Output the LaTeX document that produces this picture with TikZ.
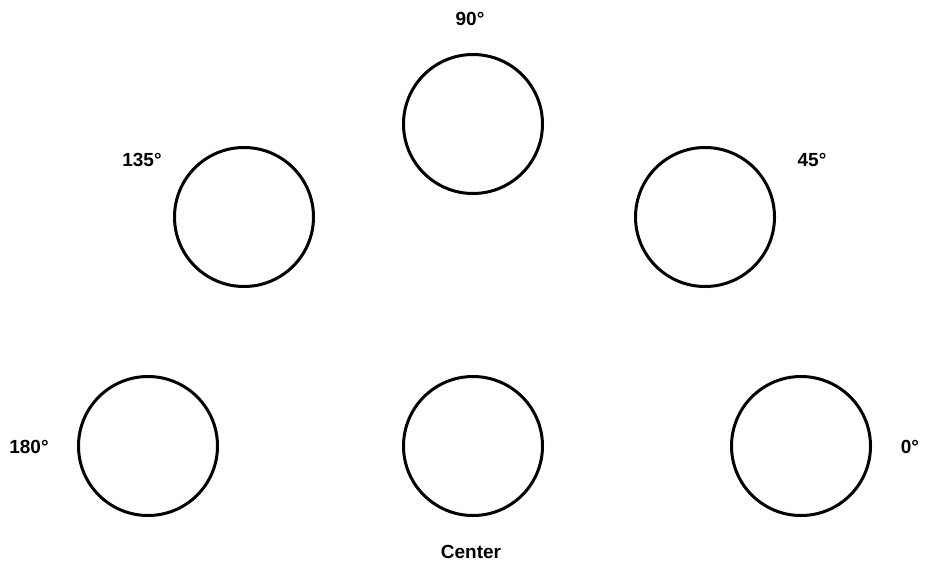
\documentclass[tikz,border=0pt]{standalone}
\usepackage{fontspec}
\setmainfont{Liberation Sans}
\usetikzlibrary{positioning}

\begin{document}
\begin{tikzpicture}[
        x=1pt, y=-1pt,
        font=\bfseries\fontsize{19}{22}\selectfont,
        spot/.style={draw, circle, line width=3pt, minimum size=139pt, inner sep=0pt},
        lbl/.style={inner sep=0pt}
    ]
        \useasboundingbox (0,0) rectangle (925,571);
        \node[spot] (p90) at (473,124) {};
        \node[spot] (p135) at (244,217) {};
        \node[spot] (p45) at (705,217) {};
        \node[spot] (p180) at (148,446) {};
        \node[spot] (pc) at (473,446) {};
        \node[spot] (p0) at (801,446) {};
        \node[lbl] (l90) at (470,19) {90°};
        \node[lbl] (l135) at (142,160) {135°};
        \node[lbl] (l45) at (812,160) {45°};
        \node[lbl] (l180) at (29,447) {180°};
        \node[lbl] (l0) at (910,447) {0°};
        \node[lbl] (lc) at (471,552) {Center};
    \end{tikzpicture}
\end{document}
